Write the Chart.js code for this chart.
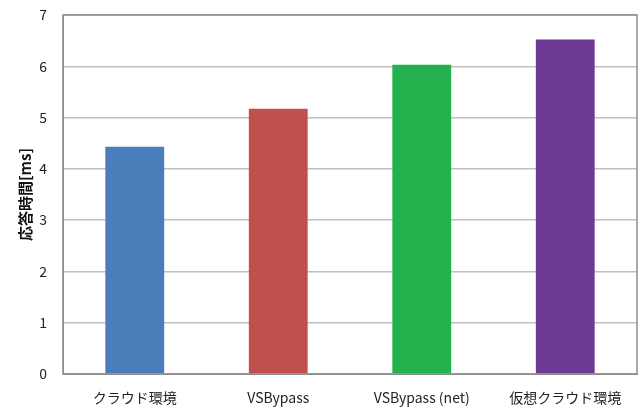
<!DOCTYPE html>
<html>
<head>
<meta charset="utf-8">
<script src="https://cdn.jsdelivr.net/npm/chart.js@4"></script>
<style>
html,body{margin:0;padding:0;background:#fff}
#wrap{width:642px;height:407px}
</style>
</head>
<body>
<div id="wrap"><canvas id="c" width="642" height="407"></canvas></div>
<script>
const categories = ["クラウド環境", "VSBypass", "VSBypass (net)", "仮想クラウド環境"]
const values = [4.43, 5.17, 6.03, 6.52]
const barColors = ["#4a7ebb", "#c0504d", "#22b14c", "#6f3996"]
const yTicks = [0, 1, 2, 3, 4, 5, 6, 7]

const fontFam = "'Noto Sans CJK JP', 'Noto Sans', sans-serif"

// box around the plot area
const frame = {
  id: "frame",
  afterDraw(chart){
    const a = chart.chartArea
    const ctx = chart.ctx
    ctx.save()
    ctx.strokeStyle = "#8c8c8c"
    ctx.lineWidth = 1.5
    ctx.strokeRect(a.left, a.top, a.right - a.left, a.bottom - a.top)
    ctx.restore()
  }
}

new Chart(document.getElementById("c").getContext("2d"), {
  type: "bar",
  data: {
    labels: categories,
    datasets: [{
      data: values,
      backgroundColor: barColors,
      categoryPercentage: 1,
      barPercentage: 0.41
    }]
  },
  options: {
    responsive: false,
    animation: false,
    layout: { padding: { left: 16, right: 5, top: 15, bottom: 0 } },
    plugins: { legend: { display: false }, tooltip: { enabled: false } },
    scales: {
      x: {
        grid: { display: false },
        border: { color: "#8c8c8c" },
        ticks: { color: "#222", font: { family: fontFam, size: 14 }, padding: 7 },
        afterFit(s){ s.height = 33; s.paddingLeft = 0; s.paddingRight = 0 }
      },
      y: {
        min: 0, max: 7,
        afterBuildTicks(s){ s.ticks = yTicks.map(v => ({ value: v })) },
        grid: { color: "#c0c0c0", lineWidth: 1.5, drawTicks: false },
        border: { color: "#8c8c8c" },
        ticks: { color: "#222", font: { family: fontFam, size: 14 }, padding: 16 },
        title: { display: true, text: "応答時間[ms]", color: "#111", font: { family: fontFam, size: 15, weight: "bold" }, padding: 0 },
        afterFit(s){ s.width = 47; s.paddingTop = 0; s.paddingBottom = 0 }
      }
    }
  },
  plugins: [frame]
})
</script>
</body>
</html>
